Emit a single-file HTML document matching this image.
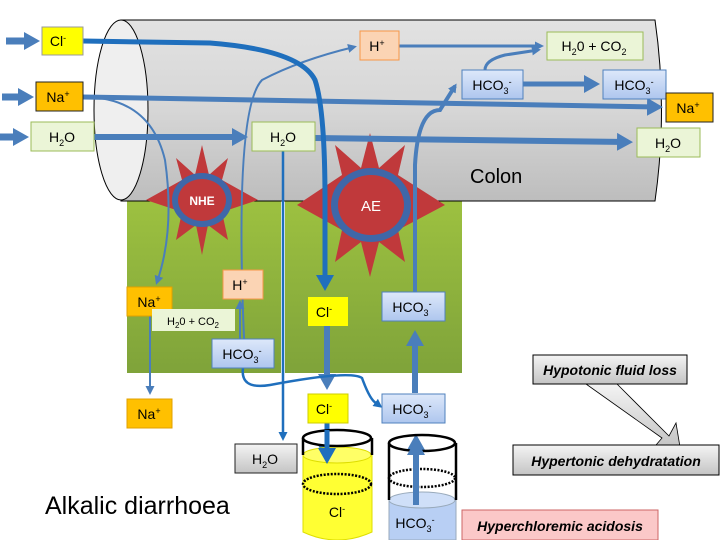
<!DOCTYPE html>
<html><head><meta charset="utf-8"><style>
body{margin:0;background:#fff}
svg{display:block}
text{font-family:"Liberation Sans",sans-serif}
</style></head><body>
<svg width="720" height="540" viewBox="0 0 720 540" xmlns="http://www.w3.org/2000/svg">
<defs>
<linearGradient id="cyl" x1="0" y1="0" x2="0" y2="1"><stop offset="0" stop-color="#e2e2e2"/><stop offset="0.5" stop-color="#d6d6d6"/><stop offset="1" stop-color="#bdbdbd"/></linearGradient>
<linearGradient id="grn" x1="0" y1="0" x2="0" y2="1"><stop offset="0" stop-color="#9dc140"/><stop offset="1" stop-color="#7fa33a"/></linearGradient>
<linearGradient id="gry" x1="0" y1="0" x2="0" y2="1"><stop offset="0" stop-color="#f4f4f4"/><stop offset="1" stop-color="#c4c4c4"/></linearGradient>
<linearGradient id="blu" x1="0" y1="0" x2="0" y2="1"><stop offset="0" stop-color="#dde8fa"/><stop offset="1" stop-color="#aec6ee"/></linearGradient>
<marker id="ah" markerWidth="16" markerHeight="18" refX="10" refY="9" orient="auto" markerUnits="userSpaceOnUse"><path d="M0,0 L16,9 L0,18 Z" fill="#4a7ebb"/></marker>
<marker id="ahs" markerWidth="9" markerHeight="9" refX="6" refY="4.5" orient="auto" markerUnits="userSpaceOnUse"><path d="M0,0 L9,4.5 L0,9 Z" fill="#4a7ebb"/></marker>
<marker id="ah2" markerWidth="16" markerHeight="18" refX="10" refY="9" orient="auto" markerUnits="userSpaceOnUse"><path d="M0,0 L16,9 L0,18 Z" fill="#1f6fbd"/></marker>
<marker id="ah2s" markerWidth="9" markerHeight="9" refX="6" refY="4.5" orient="auto" markerUnits="userSpaceOnUse"><path d="M0,0 L9,4.5 L0,9 Z" fill="#1f6fbd"/></marker>
</defs>
<!-- green tissue -->
<rect x="127" y="200" width="154" height="173" fill="url(#grn)"/>
<rect x="285" y="200" width="177" height="173" fill="url(#grn)"/>
<!-- cylinder -->
<path d="M121,20 L655,20 Q668,110 655,201 L121,201 Z" fill="url(#cyl)" stroke="#000" stroke-width="1"/>
<ellipse cx="121" cy="110" rx="27" ry="90" fill="#efefef" stroke="#000" stroke-width="1"/>
<!-- stars -->
<g fill="#c0393b">
<polygon points="202,145 209,175 228,158 222,180 258,200 222,212 228,240 208,225 202,255 196,225 176,240 182,212 146,200 182,180 176,158 195,175"/>
<polygon points="370,133 379,168 405,145 398,175 445,205 398,230 405,262 379,242 370,277 361,242 335,262 342,230 297,205 342,175 335,145 361,168"/>
</g>
<ellipse cx="202" cy="200" rx="30" ry="27" fill="#3f67a8"/>
<ellipse cx="202" cy="200" rx="24" ry="21" fill="#c0393b"/>
<ellipse cx="371" cy="205" rx="40" ry="37" fill="#3f67a8"/>
<ellipse cx="371" cy="205" rx="33" ry="30" fill="#c0393b"/>
<text x="202" y="205" font-size="12" fill="#fff" text-anchor="middle" font-weight="bold">NHE</text>
<text x="371" y="211" font-size="15" fill="#fff" text-anchor="middle">AE</text>
<!-- arrows -->
<g fill="none" stroke="#4a7ebb" stroke-linecap="butt">
<path d="M6,41 L34,41" stroke-width="7" marker-end="url(#ah)"/>
<path d="M2,97 L28,97" stroke-width="7" marker-end="url(#ah)"/>
<path d="M0,137 L23,137" stroke-width="7" marker-end="url(#ah)"/>
<path d="M94,137 L242,137" stroke-width="6" marker-end="url(#ah)"/>
<path d="M315,138 L627,142" stroke-width="6" marker-end="url(#ah)"/>
<path d="M83,97 L657,107" stroke-width="5" marker-end="url(#ah)"/>
<path d="M523,84 L594,84" stroke-width="5" marker-end="url(#ah)"/>
<path d="M399,46 L541,46" stroke-width="3" marker-end="url(#ahs)"/>
<path d="M485,70 Q485,60 505,55 L538,50" stroke-width="3" marker-end="url(#ahs)"/>
<path d="M83,97 Q150,97 165,160 Q175,230 157,282" stroke-width="2" marker-end="url(#ahs)"/>
<path d="M150,316 L150,392" stroke-width="2" marker-end="url(#ahs)"/>
<path d="M245,360 Q233,110 262,80 Q300,60 354,47" stroke-width="2" marker-end="url(#ahs)"/>
<path d="M240,340 L240,303" stroke-width="2" marker-end="url(#ahs)"/>
<path d="M415,292 L415,165 Q418,110 440,110 L455,86" stroke-width="4" marker-end="url(#ahs)"/>
<path d="M415,393 L415,336" stroke-width="6" marker-end="url(#ah)"/>
<path d="M416,505 L416,440" stroke-width="6" marker-end="url(#ah)"/>
<path d="M327,326 L327,384" stroke-width="6" marker-end="url(#ah)"/>
</g>
<g fill="none" stroke="#1f6fbd" stroke-linecap="butt">
<path d="M83,41 L210,43 Q300,50 315,80 Q325,110 325,200 L325,285" stroke-width="5" marker-end="url(#ah2)"/>
<path d="M327,423 L327,455" stroke-width="5" marker-end="url(#ah2)"/>
<path d="M283,151 L283,438" stroke-width="2.5" marker-end="url(#ah2s)"/>
<path d="M243,368 Q240,390 270,385 Q350,370 362,378 Q370,400 376,403 L380,406" stroke-width="2.5" marker-end="url(#ah2s)"/>
</g>
<!-- boxes -->
<g font-size="14" text-anchor="middle">
<rect x="42" y="27" width="41" height="28" fill="#ffff00" stroke="#999"/><text x="58" y="46">Cl<tspan dy="-5" font-size="9">-</tspan></text>
<rect x="36" y="82" width="47" height="29" fill="#ffc000" stroke="#222"/><text x="58" y="102">Na<tspan dy="-5" font-size="9">+</tspan></text>
<rect x="31" y="122" width="63" height="29" fill="#ebf5d7" stroke="#9bbb59"/><text x="62" y="142">H<tspan dy="4" font-size="9">2</tspan><tspan dy="-4">O</tspan></text>
<rect x="360" y="31" width="39" height="29" fill="#fbd4b4" stroke="#f79646"/><text x="377" y="51">H<tspan dy="-5" font-size="9">+</tspan></text>
<rect x="547" y="32" width="96" height="28" fill="#ebf5d7" stroke="#9bbb59"/><text x="594" y="51">H<tspan dy="4" font-size="9">2</tspan><tspan dy="-4">0 + CO</tspan><tspan dy="4" font-size="9">2</tspan></text>
<rect x="462" y="70" width="61" height="29" fill="url(#blu)" stroke="#4f81bd"/><text x="492" y="90">HCO<tspan dy="4" font-size="9">3</tspan><tspan dy="-9" font-size="9">-</tspan></text>
<rect x="603" y="70" width="63" height="29" fill="url(#blu)" stroke="#4f81bd"/><text x="634" y="90">HCO<tspan dy="4" font-size="9">3</tspan><tspan dy="-9" font-size="9">-</tspan></text>
<rect x="666" y="93" width="47" height="29" fill="#ffc000" stroke="#222"/><text x="688" y="113">Na<tspan dy="-5" font-size="9">+</tspan></text>
<rect x="252" y="122" width="63" height="29" fill="#ebf5d7" stroke="#9bbb59"/><text x="283" y="142">H<tspan dy="4" font-size="9">2</tspan><tspan dy="-4">O</tspan></text>
<rect x="637" y="128" width="63" height="29" fill="#ebf5d7" stroke="#9bbb59"/><text x="668" y="148">H<tspan dy="4" font-size="9">2</tspan><tspan dy="-4">O</tspan></text>
<rect x="223" y="270" width="40" height="29" fill="#fbd4b4" stroke="#f79646"/><text x="240" y="290">H<tspan dy="-5" font-size="9">+</tspan></text>
<rect x="127" y="287" width="45" height="29" fill="#ffc000" stroke="#e0a000"/><text x="149" y="307">Na<tspan dy="-5" font-size="9">+</tspan></text>
<rect x="152" y="309" width="83" height="22" fill="#ebf5d7"/><text x="193" y="325" font-size="11">H<tspan dy="3" font-size="8">2</tspan><tspan dy="-3">0 + CO</tspan><tspan dy="3" font-size="8">2</tspan></text>
<rect x="212" y="339" width="62" height="29" fill="url(#blu)" stroke="#4f81bd"/><text x="242" y="359">HCO<tspan dy="4" font-size="9">3</tspan><tspan dy="-9" font-size="9">-</tspan></text>
<rect x="308" y="297" width="40" height="29" fill="#ffff00"/><text x="324" y="317">Cl<tspan dy="-5" font-size="9">-</tspan></text>
<rect x="382" y="292" width="63" height="29" fill="url(#blu)" stroke="#4f81bd"/><text x="412" y="312">HCO<tspan dy="4" font-size="9">3</tspan><tspan dy="-9" font-size="9">-</tspan></text>
<rect x="127" y="399" width="45" height="29" fill="#ffc000" stroke="#e0a000"/><text x="149" y="419">Na<tspan dy="-5" font-size="9">+</tspan></text>
<rect x="308" y="394" width="40" height="29" fill="#ffff00" stroke="#cc0"/><text x="324" y="414">Cl<tspan dy="-5" font-size="9">-</tspan></text>
<rect x="382" y="394" width="63" height="29" fill="url(#blu)" stroke="#4f81bd"/><text x="412" y="414">HCO<tspan dy="4" font-size="9">3</tspan><tspan dy="-9" font-size="9">-</tspan></text>
<rect x="235" y="444" width="62" height="29" fill="url(#gry)" stroke="#222"/><text x="265" y="464">H<tspan dy="4" font-size="9">2</tspan><tspan dy="-4">O</tspan></text>
</g>
<text x="470" y="183" font-size="20">Colon</text>
<text x="45" y="514" font-size="25">Alkalic diarrhoea</text>
<!-- beakers -->
<g stroke="#000" stroke-width="2.5">
<path d="M303,455 L303,532 Q337,548 372,532 L372,455 Z" fill="#ffff33" stroke="#dede00" stroke-width="1"/>
<ellipse cx="337" cy="455" rx="34" ry="8" fill="#ffff66" stroke="#dede00" stroke-width="1"/>
<line x1="303" y1="438" x2="303" y2="455"/><line x1="372" y1="438" x2="372" y2="455"/>
<ellipse cx="337" cy="438" rx="34" ry="8" fill="none"/>
<ellipse cx="337" cy="484" rx="34" ry="10" fill="none" stroke-dasharray="2,1.5"/>
<path d="M389,500 L389,540 L456,540 L456,500 Z" fill="#b8cff4" stroke="#9ab" stroke-width="1"/>
<ellipse cx="422" cy="500" rx="33" ry="8" fill="#cfdff8" stroke="#9ab" stroke-width="1"/>
<line x1="389" y1="443" x2="389" y2="500"/><line x1="456" y1="443" x2="456" y2="500"/>
<ellipse cx="422" cy="443" rx="33" ry="8" fill="none"/>
<ellipse cx="422" cy="478" rx="33" ry="9" fill="none" stroke-dasharray="2,1.5"/>
</g>
<path d="M416,505 L416,445" stroke="#4a7ebb" stroke-width="6" fill="none" marker-end="url(#ah)"/>
<path d="M327,430 L327,458" stroke="#1f6fbd" stroke-width="5" fill="none" marker-end="url(#ah2)"/>
<text x="337" y="517" font-size="14" text-anchor="middle">Cl<tspan dy="-5" font-size="9">-</tspan></text>
<text x="415" y="528" font-size="14" text-anchor="middle">HCO<tspan dy="4" font-size="9">3</tspan><tspan dy="-9" font-size="9">-</tspan></text>
<!-- right labels -->
<path d="M586,384 L617,384 L669,436 L676,423 L680,447 L656,445 L662,438 Z" fill="url(#gry)" stroke="#000" stroke-width="0.8"/>
<rect x="533" y="355" width="154" height="29" fill="url(#gry)" stroke="#000"/>
<text x="610" y="375" font-size="14" font-style="italic" font-weight="bold" text-anchor="middle">Hypotonic fluid loss</text>
<rect x="513" y="445" width="206" height="30" fill="url(#gry)" stroke="#000"/>
<text x="616" y="466" font-size="14" font-style="italic" font-weight="bold" text-anchor="middle">Hypertonic dehydratation</text>
<rect x="462" y="510" width="196" height="30" fill="#fbc8c8" stroke="#c66"/>
<text x="560" y="531" font-size="14" font-style="italic" font-weight="bold" text-anchor="middle">Hyperchloremic acidosis</text>
</svg>
</body></html>
